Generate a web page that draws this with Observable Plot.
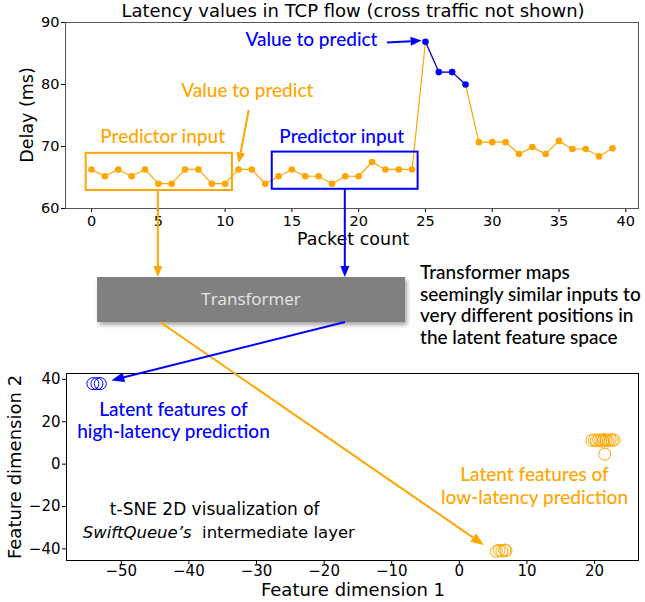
<!DOCTYPE html>
<html><head><meta charset="utf-8">
<script src="https://cdn.jsdelivr.net/npm/d3@7"></script>
<script src="https://cdn.jsdelivr.net/npm/@observablehq/plot@0.6"></script>
<style>
body{margin:0;background:#fff;}
#wrap{position:relative;width:645px;height:602px;overflow:hidden;background:#fff;}
#wrap > svg{position:absolute;left:0;}
</style></head><body><div id="wrap"></div>
<script>
const orange = "#FFA500", blue = "#0000FF";
// Top chart: latency per packet
const packetIndex = [0,1,2,3,4,5,6,7,8,9,10,11,12,13,14,15,16,17,18,19,20,21,22,23,24,25,26,27,28,29,30,31,32,33,34,35,36,37,38,39];
const delayMs = [66.3,65.2,66.3,65.2,66.3,64.0,64.0,66.3,66.3,64.0,64.0,66.3,66.3,64.0,65.2,66.3,65.2,65.2,64.0,65.2,65.2,67.5,66.3,66.3,66.3,86.9,82.0,82.0,80.0,70.7,70.7,70.7,68.8,69.9,68.8,70.9,69.6,69.6,68.4,69.7];
const highLatencyPackets = [25,26,27,28];
const topXTicks = [0,5,10,15,20,25,30,35,40];
const topYTicks = [60,70,80,90];
// Bottom chart: t-SNE features
const highX = [-54.2,-53.6,-53.1];
const highY = [38.0,38.0,38.0];
const lowX = [19.6,20.0,20.3,20.6,20.9,21.2,21.4,21.7,22.0,22.3,22.6,22.9,21.5,5.5,5.9,6.3,6.7,6.9];
const lowY = [11.2,11.4,11.0,11.5,11.2,10.8,11.6,11.3,11.0,11.5,11.3,11.4,4.7,-41.2,-40.7,-41.0,-40.6,-40.8];
const botXTicks = [-50,-40,-30,-20,-10,0,10,20];
const botYTicks = [-40,-20,0,20,40];

const minus = d => d < 0 ? "\u2212" + Math.abs(d) : String(d);
const pts = packetIndex.map((x,i)=>({x, y: delayMs[i], high: highLatencyPackets.includes(x)}));
const hiPts = pts.filter(d=>d.high);
const loPts = pts.filter(d=>!d.high);
const highPts = highX.map((x,i)=>({x,y:highY[i]}));
const lowPts = lowX.map((x,i)=>({x,y:lowY[i]}));

const baseStyle = {fontFamily:"DejaVu Sans, sans-serif", fontSize:"14px", color:"#000", background:"transparent", overflow:"visible"};

const p1 = Plot.plot({
  width:645, height:250, marginTop:22, marginBottom:42, marginLeft:65, marginRight:7,
  x:{domain:[-1.95,40.95]}, y:{domain:[60,90]},
  style: baseStyle,
  marks:[
    Plot.axisX({ticks:topXTicks, tickSize:4, tickPadding:3, label:null, fontSize:14.5}),
    Plot.axisY({ticks:topYTicks, tickSize:4, tickPadding:2, label:null, fontSize:14.5}),
    Plot.line(pts,{x:"x",y:"y",stroke:orange,strokeWidth:1.2}),
    Plot.line(hiPts,{x:"x",y:"y",stroke:blue,strokeWidth:1.2}),
    Plot.dot(loPts,{x:"x",y:"y",r:3.3,fill:orange}),
    Plot.dot(hiPts,{x:"x",y:"y",r:3.3,fill:blue}),
    Plot.rect([{x1:-0.4,x2:10.55,y1:62.9,y2:68.9}],{x1:"x1",x2:"x2",y1:"y1",y2:"y2",fill:"none",stroke:orange,strokeWidth:2}),
    Plot.rect([{x1:13.53,x2:24.45,y1:63.1,y2:69.1}],{x1:"x1",x2:"x2",y1:"y1",y2:"y2",fill:"none",stroke:blue,strokeWidth:2}),
    Plot.frame({stroke:"#555"})
  ]
});
p1.style.top = "0px";

const p2 = Plot.plot({
  width:645, height:252, marginTop:23, marginBottom:42, marginLeft:66, marginRight:7,
  x:{domain:[-58.1,26.5]}, y:{domain:[-45.5,42.8]},
  style: baseStyle,
  marks:[
    Plot.axisX({ticks:botXTicks, tickSize:4, tickPadding:1, label:null, fontSize:15, tickFormat:minus}),
    Plot.axisY({ticks:botYTicks, tickSize:4, tickPadding:2, label:null, fontSize:15, tickFormat:minus}),
    Plot.dot(highPts,{x:"x",y:"y",r:6,stroke:blue,fill:"none",strokeWidth:1}),
    Plot.dot(lowPts,{x:"x",y:"y",r:6,stroke:orange,fill:"none",strokeWidth:1}),
    Plot.frame({stroke:"#000"})
  ]
});
const p2Top = 350;
p2.style.top = p2Top + "px";

const wrap = document.getElementById("wrap");
wrap.appendChild(p1);
wrap.appendChild(p2);

const x1 = p1.scale("x").apply, y1 = p1.scale("y").apply;
const x2s = p2.scale("x"), y2s = p2.scale("y");
const x2 = v => x2s.apply(v), y2 = v => y2s.apply(v) + p2Top;

const svg = d3.select(wrap).append("svg").attr("width",645).attr("height",602).style("top","0px").style("pointer-events","none");
const defs = svg.append("defs");
const f = defs.append("filter").attr("id","sh").attr("x","-10%").attr("y","-20%").attr("width","130%").attr("height","160%");
f.append("feDropShadow").attr("dx",2).attr("dy",3).attr("stdDeviation",2).attr("flood-color","#000").attr("flood-opacity",0.35);

function arrow(xa,ya,xb,yb,color,hl=11,hw=9,lw=2){
  const dx=xb-xa, dy=yb-ya, L=Math.hypot(dx,dy), ux=dx/L, uy=dy/L;
  const bx=xb-ux*hl, by=yb-uy*hl;
  svg.append("line").attr("x1",xa).attr("y1",ya).attr("x2",bx).attr("y2",by).attr("stroke",color).attr("stroke-width",lw);
  svg.append("polygon").attr("points",[[xb,yb],[bx-uy*hw/2,by+ux*hw/2],[bx+uy*hw/2,by-ux*hw/2]].map(p=>p.join(",")).join(" ")).attr("fill",color);
}
function txt(x,y,s,opt={}){
  return svg.append("text").attr("x",x).attr("y",y).attr("text-anchor",opt.anchor||"middle").attr("dominant-baseline","middle")
    .attr("font-family",opt.font||"Lato, sans-serif").attr("font-size",opt.size||19).attr("font-weight",opt.weight||500)
    .attr("fill",opt.color||"#000").text(s);
}
const dj = {font:"DejaVu Sans", weight:"normal"};

// titles / axis labels
txt(353,12,"Latency values in TCP flow (cross traffic not shown)",{...dj,size:18});
txt(353,240,"Packet count",{...dj,size:17.5});
svg.append("text").attr("transform","translate(28,115) rotate(-90)").attr("text-anchor","middle").attr("dominant-baseline","middle")
  .attr("font-family","DejaVu Sans").attr("font-size",17.5).text("Delay (ms)");
txt(353,591,"Feature dimension 1",{...dj,size:18});
svg.append("text").attr("transform","translate(16,467) rotate(-90)").attr("text-anchor","middle").attr("dominant-baseline","middle")
  .attr("font-family","DejaVu Sans").attr("font-size",18).text("Feature dimension 2");

// top annotations
txt(x1(5.36), y1(71.3), "Predictor input", {color:orange});
txt(x1(18.77), y1(71.3), "Predictor input", {color:blue});
txt(x1(11.7), y1(78.7), "Value to predict", {color:orange});
txt(x1(16.5), y1(86.9), "Value to predict", {color:blue});
arrow(x1(22.15), y1(86.7), x1(24.75), y1(87.0), blue, 11, 9, 2);
arrow(x1(11.8), y1(75.8), x1(11.05), y1(67.2), orange, 11, 9, 2);

// Transformer box
svg.append("rect").attr("x",97).attr("y",277).attr("width",308).attr("height",45).attr("fill","#808080").attr("filter","url(#sh)");
txt(251,300,"Transformer",{font:"Open Sans",size:17,color:"#e6e6e6",weight:"normal"});
arrow(x1(5), y1(62.9), x1(5), 277, orange, 11, 9, 2);
arrow(x1(19.0), y1(63.1), x1(19.0), 277, blue, 11, 9, 2);
arrow(160, 322, x2(3.7), y2(-38.4), orange, 13, 10, 2);
arrow(345, 322, x2(-51.4), y2(39.3), blue, 13, 10, 2);

["Transformer maps","seemingly similar inputs to","very different positions in","the latent feature space"].forEach((s,i)=>{
  txt(420, 274 + i*21.7, s, {anchor:"start"});
});

// bottom annotations
txt(x2(-42.2), y2(24.8), "Latent features of", {color:blue});
txt(x2(-42.2), y2(14.2), "high-latency prediction", {color:blue});
txt(x2(11.2), y2(-6.0), "Latent features of", {color:orange});
txt(x2(11.2), y2(-16.7), "low-latency prediction", {color:orange});
txt(x2(-36.1), y2(-22.1), "t-SNE 2D visualization of", {...dj,size:17});
const t2 = svg.append("text").attr("x",x2(-35.5)).attr("y",y2(-32.7)).attr("text-anchor","middle").attr("dominant-baseline","middle")
  .attr("font-family","DejaVu Sans").attr("font-size",16.5);
t2.append("tspan").attr("font-style","italic").text("SwiftQueue\u2019s");
t2.append("tspan").text("\u00a0 intermediate layer");
</script></body></html>
